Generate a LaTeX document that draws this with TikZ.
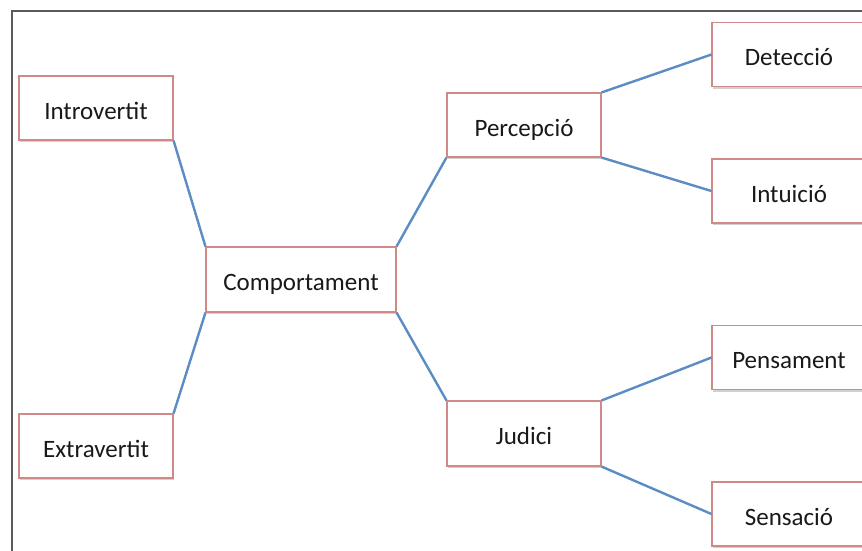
\documentclass[tikz,border=0pt]{standalone}
\usepackage{fontspec}
\setmainfont{Carlito}
\usetikzlibrary{shadows}
\definecolor{boxline}{HTML}{CF8A88}
\definecolor{linkblue}{HTML}{5B8CC4}
\definecolor{framegray}{HTML}{5A5A5A}
\begin{document}
\begin{tikzpicture}[x=1pt,y=-1pt,
  concept/.style={rectangle, draw=boxline, line width=1.1pt, fill=white,
    inner sep=0pt, minimum width=154pt, minimum height=64pt,
    text height=22pt, text depth=0pt,
    font=\fontsize{25}{30}\selectfont, text=black!90,
    general shadow={fill=black!18, shadow xshift=0.8pt, shadow yshift=-2pt}},
  link/.style={draw=linkblue, line width=2.4pt}]
\useasboundingbox (0,0) rectangle (862,550);
\begin{scope}
\clip (0,0) rectangle (862,550);
% outer frame, open towards the right and bottom
\draw[framegray, line width=1.4pt] (12,560) -- (12,11) -- (880,11);

\node[concept] (intro) at (96,108) {Introvertit};
\node[concept] (extra) at (96,446) {Extravertit};
\node[concept, minimum width=190pt, minimum height=65pt] (comp) at (301,279.5) {Comportament};
\node[concept] (perc) at (524,125) {Percepció};
\node[concept, minimum height=65pt] (jud) at (524,433.5) {Judici};
\node[concept] (det) at (789,54.5) {Detecció};
\node[concept] (intu) at (789,191) {Intuició};
\node[concept] (pens) at (789,357.5) {Pensament};
\node[concept] (sens) at (789,514) {Sensació};

\draw[link] (intro.south east) -- (comp.north west);
\draw[link] (extra.north east) -- (comp.south west);
\draw[link] (comp.north east) -- (perc.south west);
\draw[link] (comp.south east) -- (jud.north west);
\draw[link] (perc.north east) -- (det.west);
\draw[link] (perc.south east) -- (intu.west);
\draw[link] (jud.north east) -- (pens.west);
\draw[link] (jud.south east) -- (sens.west);
\end{scope}
\end{tikzpicture}
\end{document}
